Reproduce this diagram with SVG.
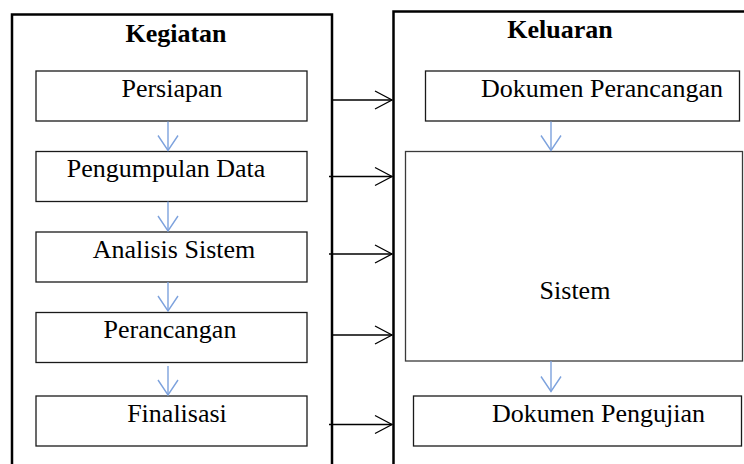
<svg xmlns="http://www.w3.org/2000/svg" width="744" height="464" viewBox="0 0 744 464">
<defs>
<style>
.cont{fill:none;stroke:#000;stroke-width:2.5}
.box{fill:#fff;stroke:#1a1a1a;stroke-width:1.3}
.sys{fill:#fff;stroke:#3a3a3a;stroke-width:1.3}
.t{font-family:"Liberation Serif","Times New Roman",serif;font-size:26px;fill:#000;text-anchor:middle}
.h{font-family:"Liberation Serif","Times New Roman",serif;font-size:26px;font-weight:bold;fill:#000;text-anchor:middle}
.bl{fill:none;stroke:#7da2dd;stroke-width:1.4}
.bk{fill:none;stroke:#000;stroke-width:1.3}
</style>
<marker id="ab" markerUnits="userSpaceOnUse" markerWidth="24" markerHeight="24" refX="20" refY="10" orient="auto" viewBox="0 0 24 20">
<path d="M5,0 L20,10 L5,20" fill="none" stroke="#7da2dd" stroke-width="1.4"/>
</marker>
<marker id="ak" markerUnits="userSpaceOnUse" markerWidth="24" markerHeight="24" refX="20" refY="9" orient="auto" viewBox="0 0 24 18">
<path d="M3,0 L20,9 L3,18" fill="none" stroke="#000" stroke-width="1.3"/>
</marker>
</defs>
<g id="kegiatan">
<rect class="cont" x="12" y="14.5" width="320" height="470"/>
<text class="h" x="176" y="41.5">Kegiatan</text>
</g>
<g id="keluaran">
<rect class="cont" x="393.5" y="11.5" width="380" height="470"/>
<text class="h" x="560" y="38">Keluaran</text>
</g>
<g id="persiapan">
<rect class="box" x="36" y="71" width="271" height="50"/>
<text class="t" x="172" y="97">Persiapan</text>
</g>
<g id="pengumpulan">
<rect class="box" x="36" y="151.5" width="271" height="50"/>
<text class="t" x="166" y="177">Pengumpulan Data</text>
</g>
<g id="analisis">
<rect class="box" x="36" y="232" width="271" height="50"/>
<text class="t" x="174" y="257.5">Analisis Sistem</text>
</g>
<g id="perancangan">
<rect class="box" x="36" y="312.5" width="271" height="50"/>
<text class="t" x="170" y="337.5">Perancangan</text>
</g>
<g id="finalisasi">
<rect class="box" x="36" y="396" width="271" height="50"/>
<text class="t" x="177" y="421.5">Finalisasi</text>
</g>
<g id="dokperancangan">
<rect class="box" x="425.5" y="71" width="314" height="50"/>
<text class="t" x="602" y="96.5">Dokumen Perancangan</text>
</g>
<g id="sistem">
<rect class="sys" x="405.5" y="151.5" width="337" height="209.5"/>
<text class="t" x="575" y="299">Sistem</text>
</g>
<g id="dokpengujian">
<rect class="box" x="413.5" y="396" width="328" height="50"/>
<text class="t" x="598.5" y="421.5">Dokumen Pengujian</text>
</g>
<g id="connectors">
<line class="bl" x1="168" y1="121.5" x2="168" y2="150.5" marker-end="url(#ab)"/>
<line class="bl" x1="168" y1="201.5" x2="168" y2="231" marker-end="url(#ab)"/>
<line class="bl" x1="168" y1="282" x2="168" y2="311" marker-end="url(#ab)"/>
<line class="bl" x1="168" y1="366" x2="168" y2="395" marker-end="url(#ab)"/>
<line class="bl" x1="551" y1="121.5" x2="551" y2="150.5" marker-end="url(#ab)"/>
<line class="bl" x1="551" y1="361" x2="551" y2="391.5" marker-end="url(#ab)"/>
<line class="bk" x1="333" y1="100" x2="392" y2="100" marker-end="url(#ak)"/>
<line class="bk" x1="329" y1="176.5" x2="392" y2="176.5" marker-end="url(#ak)"/>
<line class="bk" x1="329" y1="254" x2="392" y2="254" marker-end="url(#ak)"/>
<line class="bk" x1="333" y1="335" x2="392" y2="335" marker-end="url(#ak)"/>
<line class="bk" x1="329" y1="424.5" x2="392" y2="424.5" marker-end="url(#ak)"/>
</g>
</svg>
